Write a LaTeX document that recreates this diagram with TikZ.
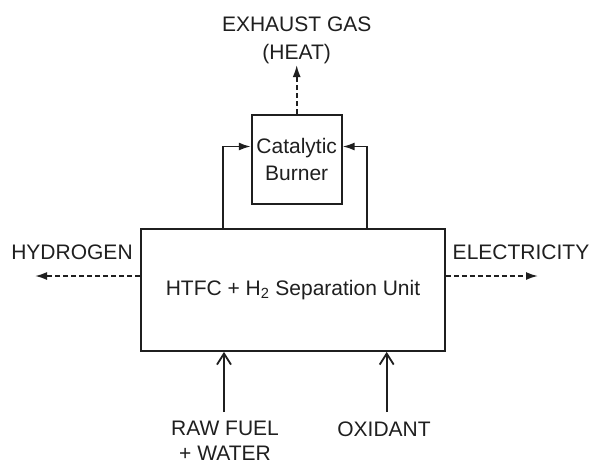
\documentclass[tikz,border=0pt]{standalone}
\usepackage{fontspec}
\setmainfont{Liberation Sans}
\usetikzlibrary{arrows.meta}
\begin{document}
\begin{tikzpicture}[x=1pt,y=-1pt,
  every node/.style={font=\fontsize{21}{27}\selectfont, text=black!88},
  boxnode/.style={draw=black!88, line width=1.8pt, inner sep=0pt, align=center},
  lbl/.style={inner sep=0pt, align=center},
  conn/.style={draw=black!88, line width=1.8pt},
  fillarr/.style={conn, -{Latex[length=12pt,width=8pt]}},
  dasharr/.style={conn, dash pattern=on 5pt off 3pt, -{Latex[length=12pt,width=8pt]}},
  openarr/.style={conn, -{Straight Barb[length=11pt,width=14pt,line width=1.8pt]}}]
\useasboundingbox[fill=white] (0,0) rectangle (592,464);
\node[boxnode, minimum width=304pt, minimum height=122pt] (main) at (293,290) {HTFC + H\textsubscript{2} Separation Unit};
\node[boxnode, minimum width=90pt, minimum height=89pt] (burner) at (296.7,159.5) {Catalytic\\Burner};
\node[lbl] (exhaust) at (296.7,40) {EXHAUST GAS\\[1pt](HEAT)};
\node[lbl] (hyd) at (72,252) {HYDROGEN};
\node[lbl] (elec) at (521,252) {ELECTRICITY};
\node[lbl] (fuel) at (225,441) {RAW FUEL\\[-2pt]+ WATER};
\node[lbl] (oxid) at (384,429) {OXIDANT};
\coordinate (exhtip) at (296.7,65);
\coordinate (hydtip) at (35,276);
\coordinate (electip) at (538,276);
\coordinate (lcol) at (223.3,0);
\coordinate (rcol) at (366.7,0);
\coordinate (fuelst) at (224,412);
\coordinate (oxst) at (386.7,412);
\draw[dasharr] (burner.north) -- (exhtip);
\draw[fillarr] (lcol |- main.north) |- ([yshift=13pt]burner.west);
\draw[fillarr] (rcol |- main.north) |- ([yshift=13pt]burner.east);
\draw[dasharr] (main.west |- hydtip) -- (hydtip);
\draw[dasharr] (main.east |- electip) -- (electip);
\draw[openarr] (fuelst) -- (fuelst |- main.south);
\draw[openarr] (oxst) -- (oxst |- main.south);
\end{tikzpicture}
\end{document}
